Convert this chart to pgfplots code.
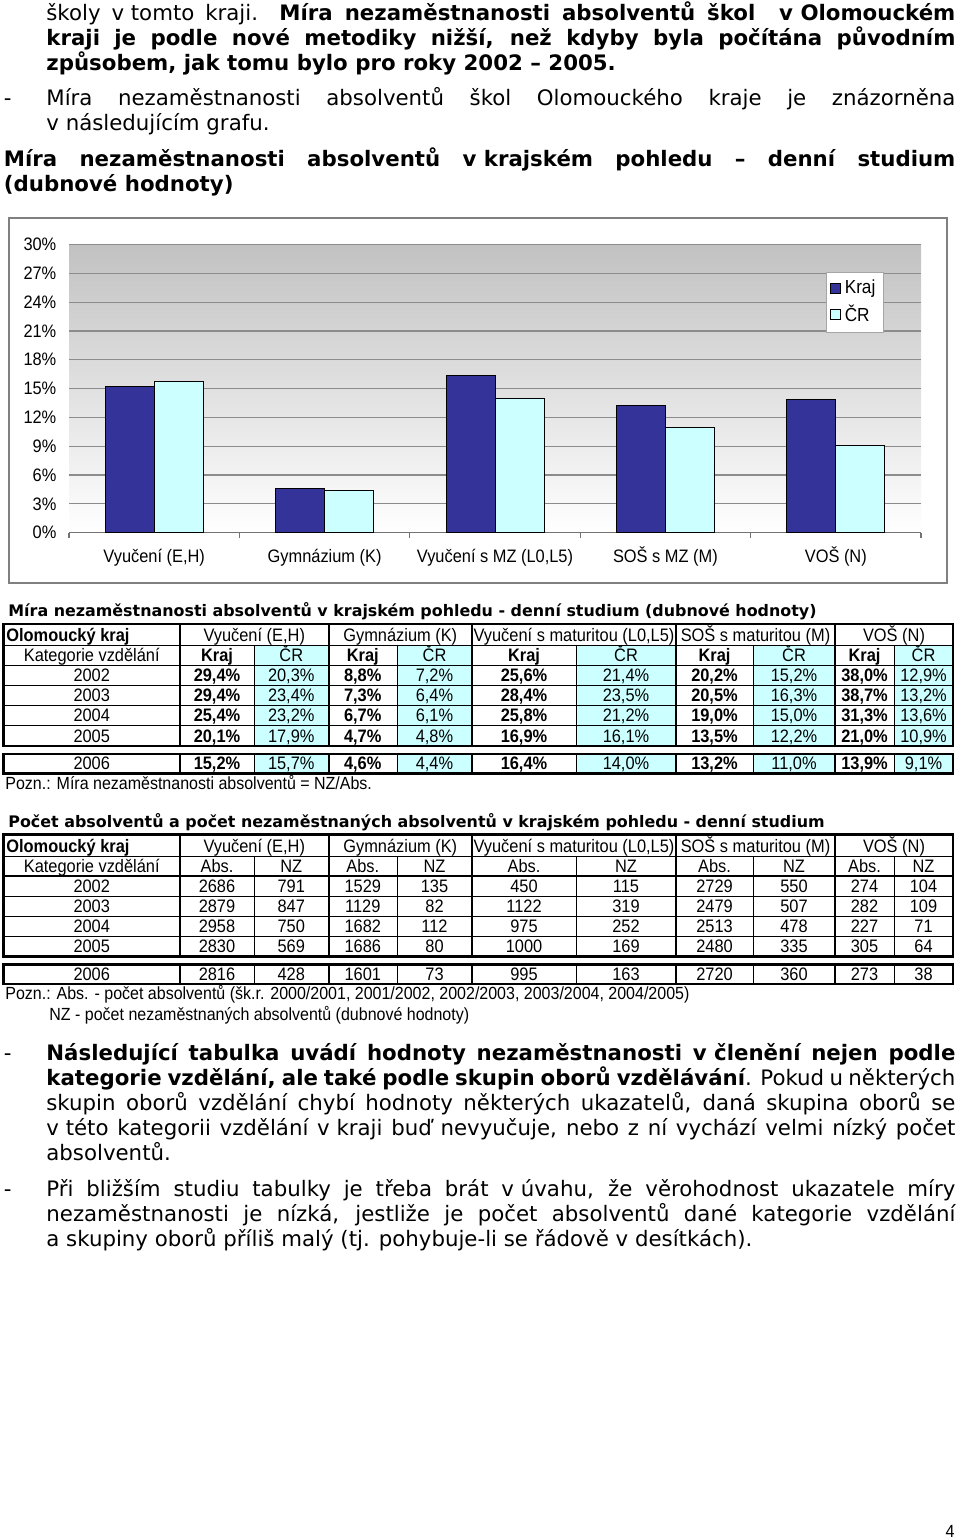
\documentclass[border=0pt]{standalone}
\usepackage{pgfplots}
\pgfplotsset{compat=1.18}
\usepackage{fontspec}
\usepackage{graphicx}
\setmainfont{DejaVu Sans}
\newfontfamily\arial{Liberation Sans}
\definecolor{kraj}{RGB}{51,51,153}
\definecolor{cr}{RGB}{204,255,255}
\newcommand\body{\fontsize{10.65pt}{12pt}\selectfont}
\newcommand\tf{\arial\fontsize{8.2pt}{10pt}\selectfont}
\newcommand\ttl{\fontsize{7.95pt}{9pt}\selectfont\bfseries}
\newcommand\vs[1]{\scalebox{1}[1.1]{#1}}
\newcommand\drow[3]{\foreach \v [count=\i] in {#2} {\pgfmathsetmacro\cx{{217,291.25,362.75,434.5,524,626,714.5,794,864.5,923.5}[\i-1]}\node[tt] at (\cx,#1) {\vs{\ifnum#3=1 \ifodd\i\bfseries\fi\fi\v}};}}
\newcommand\tablegrid{%
 \draw[line width=0.4pt] (3.5,645.5) -- (953,645.5);
 \foreach \y in {685.5,705.5,725.5} \draw[line width=0.4pt] (3.5,\y) -- (953,\y);
 \draw[line width=0.9pt] (3.5,665.5) -- (953,665.5);
 \foreach \x in {254,397,576,753,894} {\draw[line width=0.45pt] (\x,645.5) -- (\x,746); \draw[line width=0.45pt] (\x,754) -- (\x,773.5);}
 \foreach \x in {180,328.5,472,676,835} {\draw[line width=1pt] (\x,624) -- (\x,746); \draw[line width=1pt] (\x,754) -- (\x,773.5);}
 \draw[line width=1.2pt] (3.5,624) rectangle (953,746);
 \draw[line width=1.2pt] (3.5,754) rectangle (953,773.5);
 \node[tt,anchor=base west] at (6,641.8) {\vs{\bfseries Olomoucký kraj}};
 \foreach \x/\t in {254.25/{Vyučení (E,H)}, 400.25/{Gymnázium (K)}, 574/{Vyučení s maturitou (L0,L5)}, 755.5/{SOŠ s maturitou (M)}, 894/{VOŠ (N)}} \node[tt] at (\x,641.8) {\vs{\t}};
 \node[tt] at (91.75,661.8) {\vs{Kategorie vzdělání}};
 \foreach \y/\yr in {681.8/2002, 701.8/2003, 721.8/2004, 742/2005, 769.8/2006} \node[tt] at (91.75,\y) {\vs{\yr}};
}
\begin{document}
\begin{tikzpicture}[x=0.5pt,y=-0.5pt,
 bl/.style={anchor=base west,inner sep=0pt,font=\body},
 tt/.style={anchor=base,inner sep=0pt,font=\tf}]
\fill[white] (0,0) rectangle (960,1540);
% ---------- upper text
\node[bl] at (46,20.7) {\makebox[454.5pt][s]{školy \mbox{v tomto} kraji. \textbf{Míra nezaměstnanosti absolventů škol~ \mbox{v Olomouckém}}}};
\node[bl] at (46,45.7) {\makebox[454.5pt][s]{\textbf{kraji je podle nové metodiky nižší, než kdyby byla počítána původním}}};
\node[bl] at (46,70.7) {\textbf{způsobem, jak tomu bylo pro roky 2002 – 2005.}};
\node[bl] at (3.5,106) {-};
\node[bl] at (46,106) {\makebox[454.5pt][s]{Míra nezaměstnanosti absolventů škol Olomouckého kraje je znázorněna}};
\node[bl] at (46,131) {\mbox{v následujícím} grafu.};
\node[bl] at (3.5,166.7) {\makebox[475.75pt][s]{\textbf{Míra nezaměstnanosti absolventů \mbox{v krajském} pohledu – denní studium}}};
\node[bl] at (3.5,191.7) {\textbf{(dubnové hodnoty)}};
% ---------- chart frame
\draw[black!50, line width=0.6pt] (9,218) rectangle (947,583);
% ---------- table 1
\foreach \a/\b in {254/328.5, 397/472, 576/676, 753/835, 894/953} {\fill[cr] (\a,645.5) rectangle (\b,746); \fill[cr] (\a,754) rectangle (\b,773.5);}
\node[anchor=base west,inner sep=0pt] at (8,616.7) {\ttl Míra nezaměstnanosti absolventů v krajském pohledu - denní studium (dubnové hodnoty)};
\tablegrid
\drow{661.8}{Kraj,ČR,Kraj,ČR,Kraj,ČR,Kraj,ČR,Kraj,ČR}{1}
\drow{681.8}{{29,4\%},{20,3\%},{8,8\%},{7,2\%},{25,6\%},{21,4\%},{20,2\%},{15,2\%},{38,0\%},{12,9\%}}{1}
\drow{701.8}{{29,4\%},{23,4\%},{7,3\%},{6,4\%},{28,4\%},{23,5\%},{20,5\%},{16,3\%},{38,7\%},{13,2\%}}{1}
\drow{721.8}{{25,4\%},{23,2\%},{6,7\%},{6,1\%},{25,8\%},{21,2\%},{19,0\%},{15,0\%},{31,3\%},{13,6\%}}{1}
\drow{742}{{20,1\%},{17,9\%},{4,7\%},{4,8\%},{16,9\%},{16,1\%},{13,5\%},{12,2\%},{21,0\%},{10,9\%}}{1}
\drow{769.8}{{15,2\%},{15,7\%},{4,6\%},{4,4\%},{16,4\%},{14,0\%},{13,2\%},{11,0\%},{13,9\%},{9,1\%}}{1}
\node[anchor=base west,inner sep=0pt] at (5,789) {\arial\fontsize{8pt}{10pt}\selectfont\vs{Pozn.: Míra nezaměstnanosti absolventů = NZ/Abs.}};
% ---------- table 2
\begin{scope}[yshift=-105.25pt]
\node[anchor=base west,inner sep=0pt] at (8,616.7) {\ttl Počet absolventů a počet nezaměstnaných absolventů v krajském pohledu - denní studium};
\tablegrid
\drow{661.8}{Abs.,NZ,Abs.,NZ,Abs.,NZ,Abs.,NZ,Abs.,NZ}{0}
\drow{681.8}{2686,791,1529,135,450,115,2729,550,274,104}{0}
\drow{701.8}{2879,847,1129,82,1122,319,2479,507,282,109}{0}
\drow{721.8}{2958,750,1682,112,975,252,2513,478,227,71}{0}
\drow{742}{2830,569,1686,80,1000,169,2480,335,305,64}{0}
\drow{769.8}{2816,428,1601,73,995,163,2720,360,273,38}{0}
\node[anchor=base west,inner sep=0pt] at (5,788.8) {\arial\fontsize{8pt}{10pt}\selectfont\vs{Pozn.: Abs. - počet absolventů (šk.r. 2000/2001, 2001/2002, 2002/2003, 2003/2004, 2004/2005)}};
\node[anchor=base west,inner sep=0pt] at (49,809.5) {\arial\fontsize{8pt}{10pt}\selectfont\vs{NZ - počet nezaměstnaných absolventů (dubnové hodnoty)}};
\end{scope}
% ---------- lower text
\node[bl] at (3.5,1060) {-};
\node[bl] at (46,1060) {\makebox[454.5pt][s]{\textbf{Následující tabulka uvádí hodnoty nezaměstnanosti \mbox{v členění} nejen podle}}};
\node[bl] at (46,1085) {\makebox[454.5pt][s]{\textbf{kategorie vzdělání, ale také podle skupin oborů vzdělávání}. Pokud u některých}};
\node[bl] at (46,1110) {\makebox[454.5pt][s]{skupin oborů vzdělání chybí hodnoty některých ukazatelů, daná skupina oborů se}};
\node[bl] at (46,1135) {\makebox[454.5pt][s]{\mbox{v této} kategorii vzdělání \mbox{v kraji} buď nevyučuje, nebo z ní vychází velmi nízký počet}};
\node[bl] at (46,1160) {absolventů.};
\node[bl] at (3.5,1196.7) {-};
\node[bl] at (46,1196.7) {\makebox[454.5pt][s]{Při bližším studiu tabulky je třeba brát \mbox{v úvahu}, že věrohodnost ukazatele míry}};
\node[bl] at (46,1221.7) {\makebox[454.5pt][s]{nezaměstnanosti je nízká, jestliže je počet absolventů dané kategorie vzdělání}};
\node[bl] at (46,1246.7) {a skupiny oborů příliš malý (tj. pohybuje-li se řádově \mbox{v desítkách}).};
\node[anchor=base east,inner sep=0pt] at (955,1537) {\arial\fontsize{8pt}{10pt}\selectfont\vs{4}};
% ---------- chart
\begin{axis}[
 at={(34.5pt,-266.35pt)}, anchor=south west, scale only axis,
 width=426pt, height=144.1pt,
 xmin=0.5, xmax=5.5, ymin=0, ymax=30,
 ybar=0pt, bar width=24.5pt,
 axis x line*=bottom, axis y line*=left,
 y axis line style={draw=none},
 x axis line style={draw=black!55, line width=0.6pt},
 xtick={1,2,3,4,5},
 xticklabels={{\vs{Vyučení (E,H)}},{\vs{Gymnázium (K)}},{\vs{Vyučení s MZ (L0,L5)}},{\vs{SOŠ s MZ (M)}},{\vs{VOŠ (N)}}},
 major tick length=0pt,
 minor xtick={0.5,1.5,2.5,3.5,4.5,5.5},
 minor tick style={draw=black!55, line width=0.6pt},
 minor tick length=2.5pt,
 tick align=outside,
 ytick={0,3,...,30},
 yticklabel={\vs{\pgfmathprintnumber{\tick}\%}},
 ymajorgrids, major grid style={draw=black!45, line width=0.6pt},
 axis background/.style={top color=black!24, bottom color=white},
 tick label style={font=\tf},
 /pgf/number format/assume math mode=true,
 yticklabel style={xshift=-2.8pt},
 xticklabel style={anchor=base, yshift=-15pt},
 legend style={at={(0.888,0.9056)}, anchor=north west, draw=black!35, fill=white, font=\arial\fontsize{8.6pt}{10pt}\selectfont, inner sep=2pt, row sep=0pt, cells={anchor=west}},
 legend image code/.code={\draw[#1] (0pt,-2.5pt) rectangle (5pt,2.5pt);},
]
\addplot[fill=kraj, draw=black, line width=0.4pt] coordinates {(1,15.2) (2,4.6) (3,16.4) (4,13.2) (5,13.9)};
\addlegendentry{\vs{Kraj}}
\addplot[fill=cr, draw=black, line width=0.4pt] coordinates {(1,15.7) (2,4.4) (3,14.0) (4,11.0) (5,9.1)};
\addlegendentry{\vs{ČR}}
\end{axis}
\end{tikzpicture}
\end{document}
